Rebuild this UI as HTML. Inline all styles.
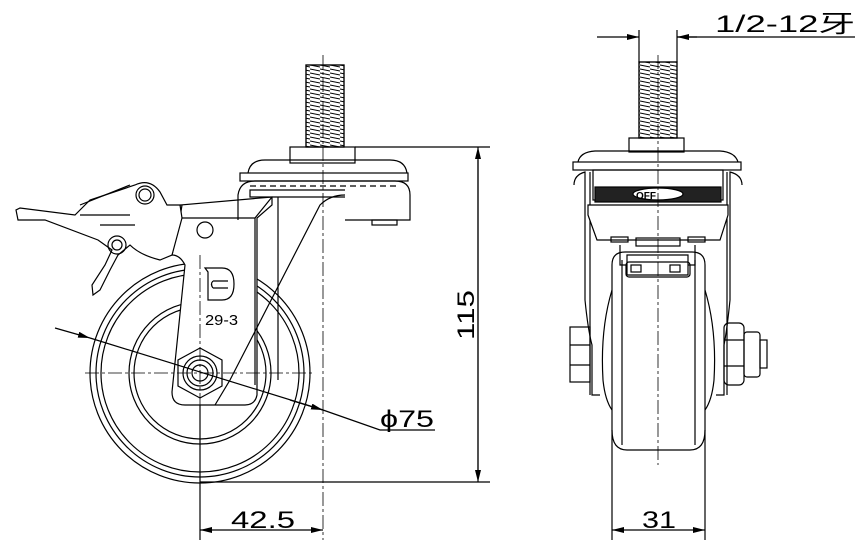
<!DOCTYPE html>
<html><head><meta charset="utf-8"><style>
html,body{margin:0;padding:0;background:#fff;}
svg{display:block;}
text{font-family:"Liberation Sans","Noto Sans CJK SC",sans-serif;fill:#000;}
</style></head><body>
<svg width="861" height="557" viewBox="0 0 861 557" xmlns="http://www.w3.org/2000/svg" fill="none" stroke="#000" stroke-width="1.2">
<defs>
<pattern id="thr" width="10" height="4" patternUnits="userSpaceOnUse"><path d="M0 1 L10 3" stroke="#000" stroke-width="1"/></pattern>
<marker id="ar" markerWidth="12" markerHeight="6" refX="12" refY="3" orient="auto" markerUnits="userSpaceOnUse"><path d="M0 0 L12 3 L0 6z" fill="#000" stroke="none"/></marker>
</defs>
<!-- ===== LEFT VIEW ===== -->
<circle cx="200" cy="373" r="110"/>
<circle cx="200" cy="373" r="104"/>
<circle cx="200" cy="373" r="99"/>
<circle cx="200" cy="373" r="71"/>
<circle cx="200" cy="373" r="66"/>
<path d="M180 218 L180 205 L272 197 L272 205 L257 218 L257 395 Q255 405 245 405 L185 405 Q172 405 172 392 L185 265 Q180 255 172 255 Z" fill="#fff"/>
<path d="M182 205 L180 218 L255 218 L272 197" />
<path d="M255 218 L255 385"/>
<path d="M278 197 L278 380"/>
<path d="M345 195 Q330 195 320 205 L230 380 L215 405" fill="none"/>
<path d="M345 190 L250 190 L250 197 L345 197"/>
<circle cx="205" cy="230" r="8"/>
<polygon points="200,348 222,360 222,386 200,398 178,386 178,360" fill="#fff"/>
<circle cx="200" cy="373" r="17"/><circle cx="200" cy="373" r="13"/><circle cx="200" cy="373" r="8"/>
<path d="M205 268 L222 268 Q234 268 234 284 Q234 300 222 300 L208 300 L208 272 Z"/>
<path d="M213 281 L228 281 M213 288 L228 288 M213 281 Q210 284 213 288"/>
<text x="205" y="325" font-size="15" stroke="none" textLength="33" lengthAdjust="spacingAndGlyphs">29-3</text>
<rect x="290" y="147" width="65" height="16"/>
<path d="M248 173 Q250 160 265 160 L390 160 Q405 160 407 173"/>
<rect x="240" y="173" width="168" height="8"/>
<path d="M238 220 L238 195 Q240 181 255 181 L395 181 Q410 181 410 195 L410 220 L345 220"/>
<path d="M250 186 L400 186" stroke-dasharray="6 4"/>
<rect x="372" y="220" width="25" height="5"/>
<rect x="306" y="65" width="38" height="82" fill="url(#thr)"/>
<rect x="306" y="65" width="38" height="82"/>
<path d="M135 185 Q150 178 160 192 L167 205 L180 205 L182 218 L172 255 L160 260 Q140 255 130 245 L118 255 L110 270 L100 290 L93 295 L92 285 L105 265 L112 250 L98 240 L45 220 L18 220 L16 210 L20 208 L75 215 L90 200 L120 190 Z" fill="#fff"/>
<circle cx="145" cy="195" r="9"/><circle cx="145" cy="195" r="6"/>
<circle cx="117" cy="245" r="9"/><circle cx="117" cy="245" r="5"/>
<path d="M80 215 L130 215 M80 205 L130 185 M100 225 L135 225"/>
<path d="M323 55 L323 540" stroke-dasharray="14 3 3 3" stroke-width="0.8"/>
<path d="M85 373 L315 373" stroke-dasharray="14 3 3 3" stroke-width="0.8"/>
<path d="M200 255 L200 540" stroke-dasharray="14 3 3 3" stroke-width="0.8"/>
<!-- dim 115 -->
<path d="M355 147 L490 147 M200 482 L490 482"/>
<path d="M478 160 L478 470"/>
<path d="M478 300 L478 147" marker-end="url(#ar)"/>
<path d="M478 300 L478 482" marker-end="url(#ar)"/>
<text transform="translate(474,340) rotate(-90)" font-size="24" stroke="none" textLength="50" lengthAdjust="spacingAndGlyphs">115</text>
<!-- dim 42.5 -->
<path d="M200 405 L200 540"/>
<path d="M262 530 L200 530" marker-end="url(#ar)"/>
<path d="M262 530 L323 530" marker-end="url(#ar)"/>
<text x="231" y="528" font-size="24" stroke="none" textLength="64" lengthAdjust="spacingAndGlyphs">42.5</text>
<!-- dim Ø75 -->
<path d="M55 328 L90 338" marker-end="url(#ar)"/>
<path d="M90 338 L323 410" />
<path d="M290 400 L323 410" marker-end="url(#ar)"/>
<path d="M323 410 L380 430 L435 430"/>
<text x="380" y="427" font-size="24" stroke="none" textLength="54" lengthAdjust="spacingAndGlyphs">ϕ75</text>

<!-- ===== RIGHT VIEW ===== -->
<path d="M574 185 Q574 175 585 172 L585 300 Q588 330 592 345 L592 395 L600 395"/>
<path d="M742 185 Q742 175 730 172 L730 300 Q727 330 724 345 L724 395 L716 395"/>
<path d="M590 172 L590 395 M727 172 L727 395"/>
<path d="M612 265 Q612 252 625 252 L692 252 Q705 252 705 265 L705 430 Q705 450 690 450 L627 450 Q612 450 612 430 Z" fill="#fff"/>
<path d="M612 290 Q600 330 603 380 Q605 400 612 410 M705 290 Q717 330 714 380 Q712 400 705 410"/>
<path d="M622 260 L622 445 M695 260 L695 445"/>
<rect x="593" y="170" width="130" height="30"/>
<rect x="595" y="187" width="126" height="15" fill="#222"/>
<ellipse cx="658" cy="194" rx="25" ry="6" fill="#fff"/>
<text x="636" y="199" font-size="10" stroke="none" font-weight="bold">OFF</text>
<path d="M588 205 L728 205 L728 215 L720 240 L597 240 L588 215 Z" fill="#fff"/>
<rect x="611" y="237" width="17" height="5"/><rect x="688" y="237" width="17" height="5"/><rect x="636" y="238" width="44" height="8"/>
<path d="M620 245 L620 265 L695 265 L695 245"/>
<path d="M627 255 L688 255 L688 275 L627 275 Z" fill="#fff"/>
<rect x="626" y="262" width="64" height="15" rx="3"/>
<rect x="631" y="265" width="10" height="7"/><rect x="670" y="265" width="10" height="7"/>
<rect x="629" y="138" width="55" height="14"/>
<path d="M578 162 Q580 152 595 151 L720 151 Q735 152 738 162"/>
<rect x="573" y="162" width="168" height="8"/>
<rect x="639" y="62" width="38" height="76" fill="url(#thr)"/>
<rect x="639" y="62" width="38" height="76"/>
<rect x="570" y="327" width="20" height="55"/>
<path d="M570 345 L590 345 M570 365 L590 365"/>
<rect x="724" y="323" width="20" height="62" rx="5"/>
<path d="M724 340 L744 340 M724 366 L744 366"/>
<rect x="744" y="332" width="16" height="45" rx="3"/>
<rect x="760" y="340" width="7" height="28"/>
<path d="M658 55 L658 465" stroke-dasharray="14 3 3 3" stroke-width="0.8"/>
<path d="M639 62 L639 30 M677 62 L677 30"/>
<path d="M597 37 L639 37" marker-end="url(#ar)"/>
<path d="M697 37 L677 37" marker-end="url(#ar)"/>
<path d="M677 37 L855 37"/>
<text x="715" y="32" font-size="24" stroke="none" textLength="140" lengthAdjust="spacingAndGlyphs">1/2-12牙</text>
<path d="M612 430 L612 540 M705 430 L705 540"/>
<path d="M658 530 L612 530" marker-end="url(#ar)"/>
<path d="M658 530 L705 530" marker-end="url(#ar)"/>
<text x="642" y="528" font-size="24" stroke="none" textLength="34" lengthAdjust="spacingAndGlyphs">31</text>
</svg>
</body></html>
